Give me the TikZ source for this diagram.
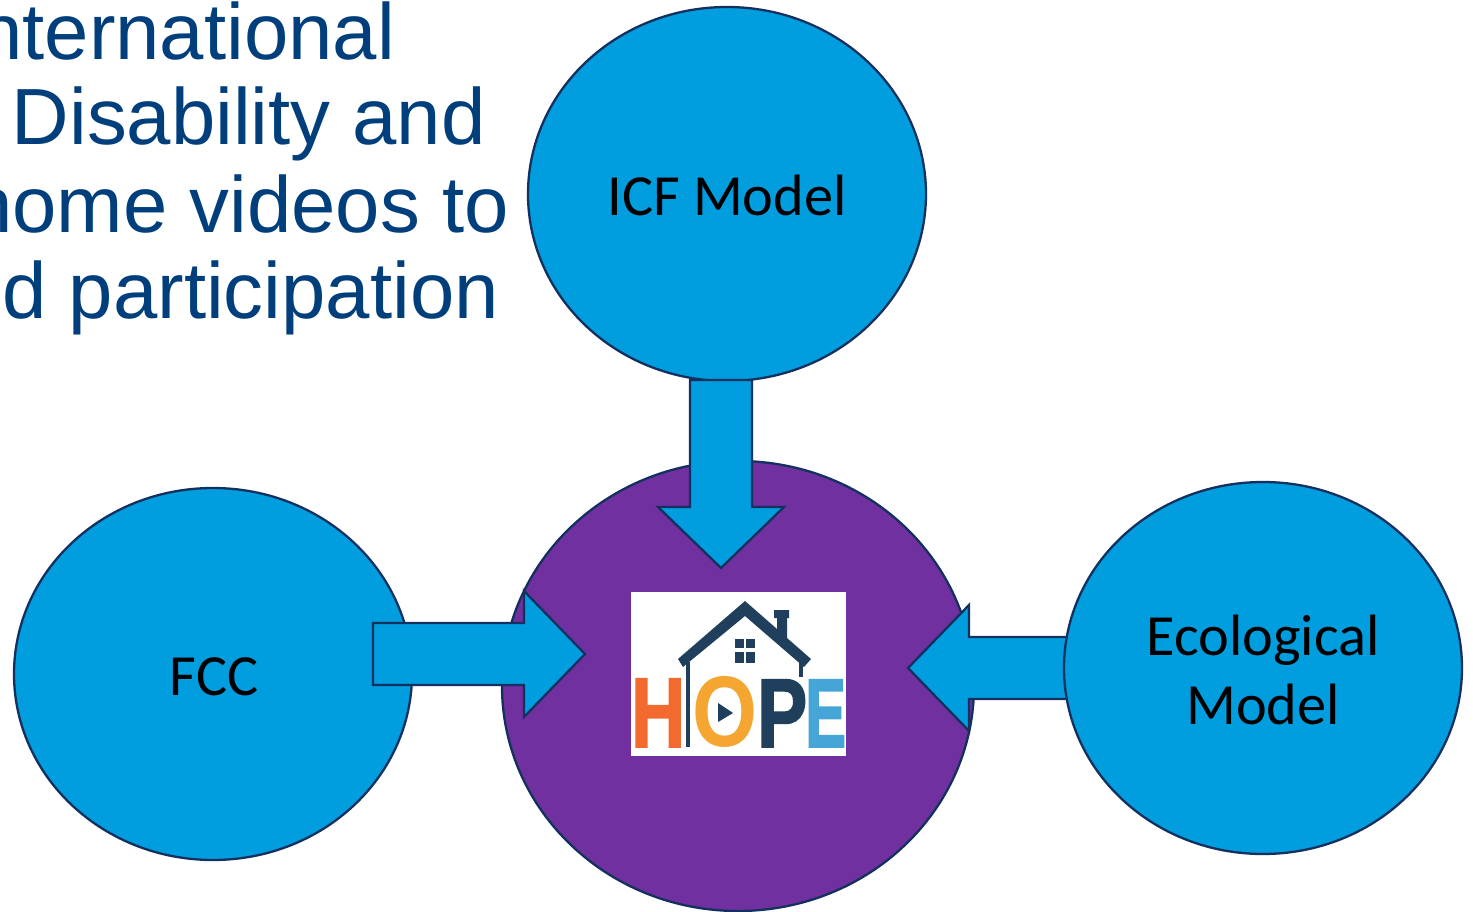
\documentclass[tikz,border=0pt]{standalone}
\usepackage{fontspec}
\usepackage{graphicx}
\setmainfont{Liberation Sans}
\newfontfamily\labelfont{Carlito}
\newfontfamily\logofont{Liberation Sans Bold}[FakeBold=2]
\newfontfamily\logoring{Liberation Sans Bold}
\usetikzlibrary{calc}
\definecolor{skyfill}{HTML}{009DDF}
\definecolor{edgeblue}{HTML}{14305F}
\definecolor{hopepurple}{HTML}{7030A0}
\definecolor{headblue}{HTML}{003F7C}
\definecolor{logonavy}{HTML}{1F3F5C}
\definecolor{logoorange}{HTML}{F26A2E}
\definecolor{logoamber}{HTML}{F5A631}
\definecolor{logosky}{HTML}{45A5D6}
\tikzset{
  bubble/.style={draw=edgeblue,line width=2.3pt,fill=skyfill},
  bigbubble/.style={draw=edgeblue,line width=2.3pt,fill=hopepurple},
  blockarrow/.style={draw=edgeblue,line width=2.3pt,fill=skyfill,line join=miter},
  circlelabel/.style={font=\labelfont\fontsize{58.3}{68}\selectfont,text=black,align=center,inner sep=0pt},
  headline/.style={font=\fontsize{79.7}{86}\selectfont,text=headblue,anchor=base east,inner sep=0pt},
  logoletter/.style={font=\logofont,anchor=south west,inner sep=0pt}
}
\newcommand{\blockarrowdraw}[2]{%
  \draw[blockarrow]
    ($(#1)!31pt!90:(#2)$) --
    ($($(#2)!61pt!(#1)$)!31pt!90:(#2)$) --
    ($($(#2)!61pt!(#1)$)!63pt!90:(#2)$) --
    (#2) --
    ($($(#2)!61pt!(#1)$)!63pt!-90:(#2)$) --
    ($($(#2)!61pt!(#1)$)!31pt!-90:(#2)$) --
    ($(#1)!31pt!-90:(#2)$) -- cycle;}
\begin{document}
\begin{tikzpicture}[x=1pt,y=-1pt]
\useasboundingbox (0,0) rectangle (1473,912);
\begin{scope}
\clip (0,0) rectangle (1473,912);
\node[headline] (line1) at (395,60) {nternational};
\node[headline] (line2) at (486,145) {Disability and};
\node[headline] (line3) at (509,233) {home videos to};
\node[headline] (line4) at (499,318) {d participation};
\end{scope}

\coordinate (hopecentre) at (738,686);
\draw[bigbubble] (hopecentre) ellipse [x radius=236,y radius=225];

% coordinates of the arrow ends
\coordinate (icfout) at (721,380);
\coordinate (icftip) at (721,568);
\coordinate (fccout) at (373,654);
\coordinate (fcctip) at (585,654);
\coordinate (ecoout) at (1068,668);
\coordinate (ecotip) at (908,668);

\blockarrowdraw{ecoout}{ecotip}
\draw[bubble] (727,194) ellipse [x radius=199,y radius=187];
\draw[bubble] (213,674) ellipse [x radius=199,y radius=186];
\draw[bubble] (1263,668) ellipse [x radius=199,y radius=186];
\blockarrowdraw{icfout}{icftip}
\blockarrowdraw{fccout}{fcctip}

\node[circlelabel,anchor=base] (icf) at (727,216) {ICF Model};
\node[circlelabel,anchor=base] (fcc) at (214,695) {FCC};
\node[circlelabel,anchor=base] (eco1) at (1263,655) {Ecological};
\node[circlelabel,anchor=base] (eco2) at (1263,724) {Model};

% logo
\fill[white] (631,592) rectangle (846,756);
\fill[logonavy] (745,601) -- (777,629) -- (777,618) -- (774,618) -- (774,610) -- (789,610) -- (789,618) -- (787,618) -- (787,638) -- (811,659) -- (804,667) -- (745,616) -- (683,667) -- (678,659) -- cycle;
\fill[logonavy] (686,662) rectangle (690,747);
\fill[logonavy] (799,660) rectangle (803,677);
\fill[logonavy] (735,639) rectangle (744,648);
\fill[logonavy] (746,639) rectangle (755,648);
\fill[logonavy] (735,652) rectangle (744,663);
\fill[logonavy] (746,652) rectangle (755,663);
\node[logoletter,text=logoorange] (logoH) at (631,747) {\resizebox{54pt}{68pt}{H}};
\node[logoletter,text=logoamber,font=\logoring] (logoO) at (692,748) {\resizebox{65pt}{70pt}{O}};
\node[logoletter,text=logonavy] (logoP) at (757,747) {\resizebox{50pt}{67pt}{P}};
\node[logoletter,text=logosky] (logoE) at (805,747) {\resizebox{41pt}{67pt}{E}};
\fill[logonavy] (718,703) -- (733,713) -- (718,722) -- cycle;
\end{tikzpicture}
\end{document}
